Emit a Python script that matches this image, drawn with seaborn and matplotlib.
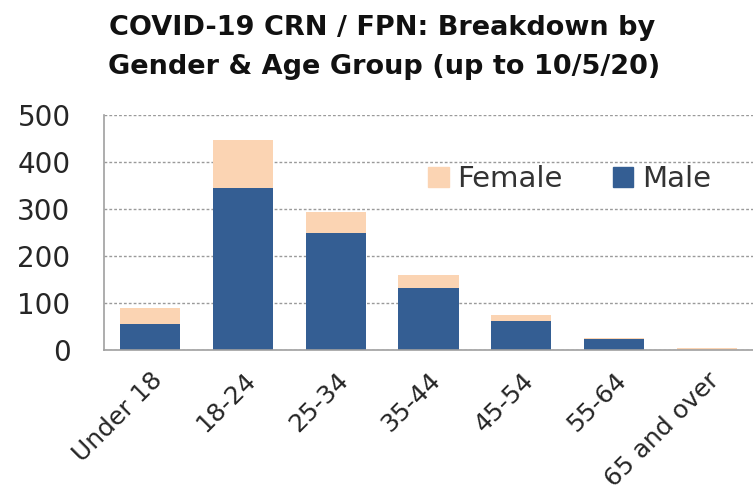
import matplotlib
matplotlib.use("Agg")
import matplotlib.pyplot as plt
import seaborn as sns
import pandas as pd
from matplotlib.patches import Patch

categories = ["Under 18", "18-24", "25-34", "35-44", "45-54", "55-64", "65 and over"]
male = [55, 344, 248, 131, 62, 24, 0]
female = [34, 103, 45, 29, 12, 2, 5]

MALE_C = "#345E93"
FEMALE_C = "#FBD4B3"

df = pd.DataFrame({"age": categories, "male": male, "female": female})
df["total"] = df["male"] + df["female"]

sns.set_style("white")
plt.rcParams["font.family"] = ["DejaVu Sans"]

fig = plt.figure(figsize=(7.53, 4.95), dpi=100)
ax = fig.add_axes([0.138, 0.293, 0.862, 0.475])

sns.barplot(data=df, x="age", y="total", color=FEMALE_C, width=0.65,
            saturation=1, ax=ax, order=categories, linewidth=0, edgecolor="none")
sns.barplot(data=df, x="age", y="male", color=MALE_C, width=0.65,
            saturation=1, ax=ax, order=categories, linewidth=0, edgecolor="none")

ax.set_ylim(0, 500)
ax.set_xlim(-0.5, 6.5)
ax.set_yticks([0, 100, 200, 300, 400, 500])
ax.set_xlabel("")
ax.set_ylabel("")
ax.yaxis.grid(True, linestyle=(0, (2, 1.5)), color="#9A9A9A", linewidth=1)
ax.set_axisbelow(True)
for s in ["top", "right"]:
    ax.spines[s].set_visible(False)
for s in ["left", "bottom"]:
    ax.spines[s].set_color("#A0A0A0")
    ax.spines[s].set_linewidth(1.2)
ax.tick_params(axis="y", length=0, labelsize=20, colors="#262626", pad=24)
ax.tick_params(axis="x", length=0, labelsize=18, colors="#262626", pad=13)
plt.setp(ax.get_xticklabels(), rotation=45, ha="right", rotation_mode="anchor")

handles = [Patch(color=FEMALE_C, label="Female"), Patch(color=MALE_C, label="Male")]
ax.legend(handles=handles, loc="center left", bbox_to_anchor=(0.5, 0.725), ncol=2,
          frameon=False, fontsize=21, handlelength=0.7, handleheight=0.7,
          handletextpad=0.3, columnspacing=1.7, labelcolor="#333333",
          borderaxespad=0, borderpad=0)

fig.text(0.508, 0.943, "COVID-19 CRN / FPN: Breakdown by", ha="center", va="center",
         fontsize=19.5, fontweight="bold", color="#111111")
fig.text(0.510, 0.864, "Gender & Age Group (up to 10/5/20)", ha="center", va="center",
         fontsize=19.5, fontweight="bold", color="#111111")

fig.savefig("out.png", dpi=100)
